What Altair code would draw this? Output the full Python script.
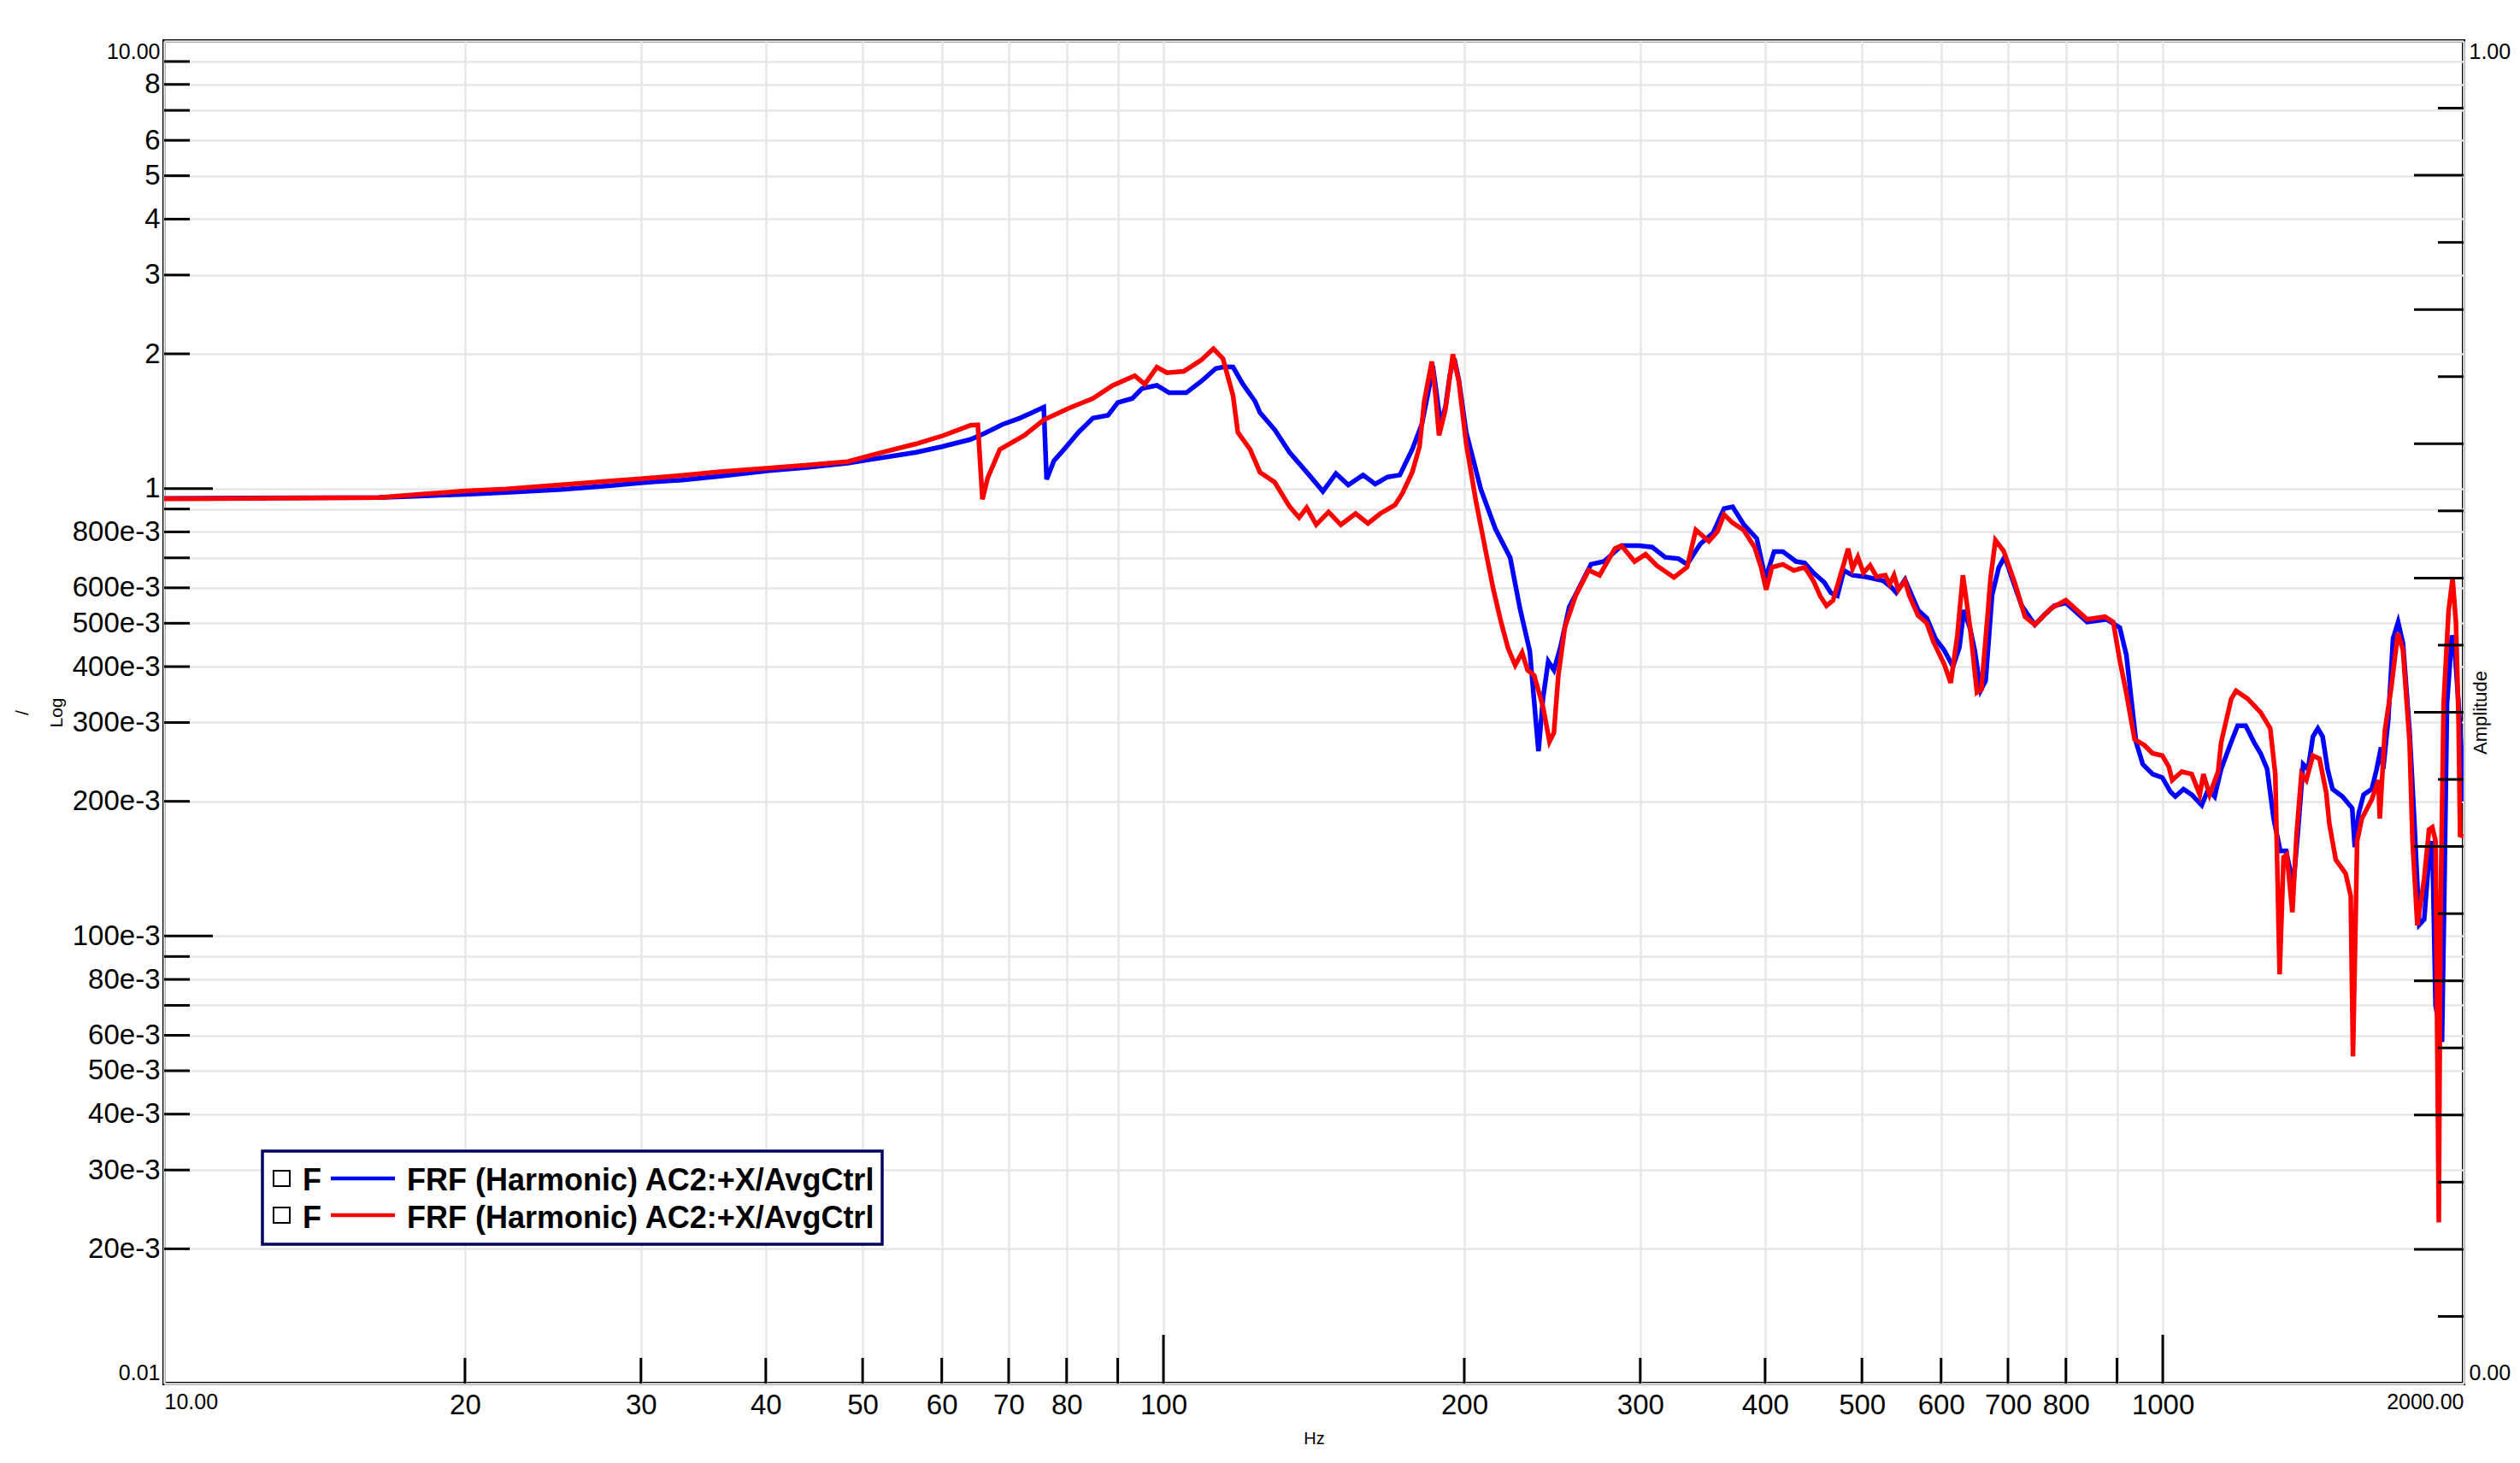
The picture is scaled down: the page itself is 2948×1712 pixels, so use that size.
import altair as alt
import pandas as pd

W, H = 2690, 1571

# ---------------- data ----------------
blue_freq = [10, 12, 14, 16.4, 18, 20, 22, 25, 28, 30, 33, 36, 40.3, 44, 48.3, 52, 56.6, 60, 64.1, 66.3,
             69, 71.8, 74, 75.9, 76.4, 77.7, 79.5, 82.2, 85.0, 88.0, 90.0, 93.1, 95.2, 98.5, 101.3, 105.4,
             109.1, 112.8, 115, 117.4, 120.1, 123.5, 124.9, 129.2, 133.7, 139.9, 144.4, 148.8, 153.1, 158.4,
             162.9, 167.6, 172.4, 177.4, 181.4, 184.5, 186, 187.5, 189.3, 191.5, 193.5, 195.5, 197.5, 200.9,
             207.8, 214.9, 222.3, 227.4, 232.6, 237.3, 239.8, 242.7, 245.9, 249.6, 254.7, 259.9, 267.8, 276.0,
             287.3, 299.1, 308.3, 317.8, 327.5, 334.2, 344.4, 354.8, 363.9, 371.2, 380.7, 392.4, 400.3, 408.4,
             416.7, 429.5, 438.2, 447.1, 458.5, 465.4, 472.5, 479.6, 489.3, 504.4, 525.1, 535.8, 541.2, 552.2,
             557.7, 569.1, 580.6, 592.4, 604.4, 616.7, 626.0, 632.3, 641.9, 648.4, 657.4, 664.9, 674.9, 685.3,
             694.8, 706.5, 722.6, 744.7, 761.7, 779.1, 799.9, 840.2, 879.0, 905.7, 919.5, 930.0, 940.5, 955,
             977, 999, 1018, 1029.5, 1049, 1069, 1094, 1110.5, 1127, 1144, 1170.6, 1188.3, 1210.6, 1234,
             1252.7, 1272, 1291, 1311, 1328.6, 1351, 1366, 1382, 1397.7, 1413.5, 1429.5, 1445.4, 1462, 1478.7,
             1512.7, 1547.3, 1556.6, 1570.6, 1588.5, 1618.7, 1637, 1653.5, 1662, 1681, 1700, 1720, 1739.5,
             1766, 1786, 1806, 1826.5, 1847, 1861, 1875, 1903, 1913, 1925, 1947, 1962, 1977, 1992, 2000]
blue_amp = [0.95, 0.952, 0.953, 0.955, 0.962, 0.97, 0.98, 0.995, 1.015, 1.03, 1.045, 1.065, 1.096, 1.115,
            1.139, 1.17, 1.205, 1.24, 1.287, 1.33, 1.39, 1.436, 1.48, 1.52, 1.048, 1.153, 1.222, 1.335, 1.436,
            1.457, 1.556, 1.59, 1.674, 1.70, 1.637, 1.637, 1.736, 1.854, 1.87, 1.868, 1.71, 1.567, 1.478,
            1.354, 1.205, 1.072, 0.985, 1.08, 1.018, 1.072, 1.023, 1.061, 1.072, 1.223, 1.394, 1.687, 1.88,
            1.65, 1.40, 1.52, 1.80, 1.95, 1.75, 1.335, 0.996, 0.812, 0.701, 0.539, 0.433, 0.259, 0.34, 0.411,
            0.393, 0.442, 0.543, 0.593, 0.677, 0.687, 0.745, 0.745, 0.74, 0.702, 0.697, 0.677, 0.751, 0.796,
            0.902, 0.91, 0.832, 0.773, 0.629, 0.723, 0.723, 0.687, 0.682, 0.648, 0.617, 0.585, 0.576, 0.656,
            0.64, 0.635, 0.622, 0.60, 0.585, 0.626, 0.594, 0.535, 0.513, 0.462, 0.435, 0.40, 0.442, 0.535,
            0.484, 0.435, 0.354, 0.372, 0.578, 0.666, 0.704, 0.63, 0.547, 0.496, 0.523, 0.547, 0.555, 0.503,
            0.51, 0.489, 0.425, 0.339, 0.271, 0.242, 0.23, 0.226, 0.21, 0.205, 0.213, 0.207, 0.196, 0.213,
            0.205, 0.236, 0.271, 0.295, 0.295, 0.271, 0.256, 0.236, 0.183, 0.155, 0.155, 0.13, 0.173, 0.242,
            0.236, 0.279, 0.291, 0.279, 0.236, 0.213, 0.205, 0.193, 0.158, 0.188, 0.207, 0.213, 0.236, 0.264,
            0.236, 0.303, 0.462, 0.503, 0.45, 0.287, 0.178, 0.106, 0.109, 0.150, 0.163, 0.07, 0.058, 0.123,
            0.33, 0.47, 0.42, 0.33, 0.25, 0.2]

red_freq = [10, 12, 14, 16.4, 18, 20, 22, 25, 28, 30, 33, 36, 40.3, 44, 48.3, 52, 56.6, 60, 64.1, 65.2,
            65.9, 66.7, 68.6, 72.6, 75.9, 80.4, 85.0, 89.0, 93.6, 95.8, 98.5, 100.8, 104.8, 109.1, 112.2,
            114.7, 117.4, 118.7, 122.1, 124.9, 129.2, 133.7, 136.7, 139.1, 142.2, 146.3, 150.5, 155.7, 160.2,
            164.8, 170.5, 173.4, 177.4, 180.4, 182.4, 185.6, 187.2, 188.7, 191.5, 194.8, 197.5, 200.9, 205.4,
            210.2, 213.8, 217.4, 221.2, 224.9, 228.5, 231.4, 235.0, 239.8, 243.4, 245.9, 248.4, 252.2, 258.5,
            266.4, 273.2, 283.0, 287.3, 296.1, 303.7, 311.5, 324.2, 334.2, 341.0, 351.4, 358.5, 363.9, 371.2,
            380.7, 390.4, 396.3, 401.0, 406.4, 416.7, 427.4, 438.2, 447.1, 454.0, 460.8, 467.7, 474.8, 484.4,
            489.3, 495.3, 501.7, 509.5, 517.2, 527.6, 533.0, 538.4, 543.8, 552.2, 557.7, 569.1, 580.6, 589.4,
            604.4, 613.5, 622.9, 631, 637, 641.9, 651.7, 658.3, 668.3, 672.4, 680.1, 693.1, 711.7, 728.0,
            744.7, 773.3, 799.9, 840.2, 875.4, 892.2, 905.7, 919.5, 937.1, 958.5, 976.6, 999, 1014, 1022,
            1045, 1069, 1089, 1098, 1114, 1136, 1144, 1171, 1184, 1216, 1253, 1281, 1296, 1309, 1321, 1331,
            1348, 1361, 1376.5, 1392, 1413, 1435, 1457, 1468, 1490, 1524, 1542, 1550, 1565, 1582, 1619, 1643,
            1649, 1668, 1693, 1719, 1739, 1766, 1778, 1798, 1826, 1847, 1861, 1875, 1889, 1896, 1910, 1932,
            1950, 1965, 1977, 1984, 2000]
red_amp = [0.948, 0.95, 0.952, 0.955, 0.97, 0.988, 0.998, 1.02, 1.04, 1.052, 1.07, 1.09, 1.111, 1.128,
           1.148, 1.2, 1.259, 1.31, 1.384, 1.388, 0.946, 1.056, 1.223, 1.315, 1.424, 1.511, 1.59, 1.70, 1.787,
           1.71, 1.868, 1.814, 1.827, 1.936, 2.053, 1.951, 1.613, 1.335, 1.223, 1.087, 1.033, 0.912, 0.861,
           0.906, 0.83, 0.886, 0.83, 0.879, 0.836, 0.879, 0.919, 0.975, 1.087, 1.24, 1.567, 1.923, 1.613,
           1.315, 1.50, 1.995, 1.736, 1.259, 0.94, 0.722, 0.597, 0.509, 0.44, 0.403, 0.43, 0.393, 0.382,
           0.325, 0.272, 0.285, 0.382, 0.49, 0.576, 0.657, 0.64, 0.734, 0.745, 0.687, 0.713, 0.673, 0.633,
           0.667, 0.808, 0.762, 0.802, 0.875, 0.838, 0.808, 0.74, 0.667, 0.594, 0.667, 0.677, 0.656, 0.667,
           0.622, 0.576, 0.547, 0.562, 0.629, 0.734, 0.662, 0.703, 0.648, 0.673, 0.635, 0.64, 0.611, 0.64,
           0.594, 0.622, 0.576, 0.52, 0.50, 0.455, 0.405, 0.368, 0.469, 0.64, 0.55, 0.484, 0.35, 0.355, 0.528,
           0.63, 0.766, 0.725, 0.612, 0.517, 0.496, 0.54, 0.563, 0.51, 0.517, 0.503, 0.413, 0.349, 0.275,
           0.267, 0.256, 0.253, 0.239, 0.223, 0.233, 0.23, 0.207, 0.23, 0.207, 0.233, 0.271, 0.339, 0.353,
           0.339, 0.316, 0.291, 0.23, 0.0821, 0.150, 0.152, 0.113, 0.168, 0.23, 0.223, 0.253, 0.249, 0.21,
           0.178, 0.148, 0.138, 0.123, 0.0538, 0.163, 0.183, 0.202, 0.223, 0.183, 0.287, 0.359, 0.475, 0.437,
           0.271, 0.163, 0.1057, 0.134, 0.173, 0.175, 0.163, 0.0229, 0.107, 0.33, 0.532, 0.63, 0.503, 0.303,
           0.168, 0.167]

x_tick_values = [10, 20, 30, 40, 50, 60, 70, 80, 90, 100, 200, 300, 400, 500, 600, 700, 800, 900, 1000, 2000]
x_tick_labels = ["10.00", "20", "30", "40", "50", "60", "70", "80", "", "100", "200", "300", "400", "500",
                 "600", "700", "800", "", "1000", "2000.00"]
y_tick_values = [10, 9, 8, 7, 6, 5, 4, 3, 2, 1, 0.9, 0.8, 0.7, 0.6, 0.5, 0.4, 0.3, 0.2, 0.1,
                 0.09, 0.08, 0.07, 0.06, 0.05, 0.04, 0.03, 0.02, 0.01]
y_tick_labels = ["10.00", "", "8", "", "6", "5", "4", "3", "2", "1", "", "800e-3", "", "600e-3", "500e-3",
                 "400e-3", "300e-3", "200e-3", "100e-3", "", "80e-3", "", "60e-3", "50e-3", "40e-3",
                 "30e-3", "20e-3", "0.01"]
x_minor_ticks = [20, 30, 40, 50, 60, 70, 80, 90, 200, 300, 400, 500, 600, 700, 800, 900]
x_major_ticks = [100, 1000]
y_minor_ticks = [9, 8, 7, 6, 5, 4, 3, 2, 0.9, 0.8, 0.7, 0.6, 0.5, 0.4, 0.3, 0.2,
                 0.09, 0.08, 0.07, 0.06, 0.05, 0.04, 0.03, 0.02]
y_major_ticks = [1, 0.1]
amp_minor_ticks = [0.05, 0.15, 0.25, 0.35, 0.45, 0.55, 0.65, 0.75, 0.85, 0.95]
amp_major_ticks = [0.1, 0.2, 0.3, 0.4, 0.5, 0.6, 0.7, 0.8, 0.9]
legend_label = "FRF (Harmonic) AC2:+X/AvgCtrl"

FONT = "Liberation Sans"


def label_expr(values, labels):
    parts = [f"abs(datum.value - {v}) < {v * 1e-4} ? '{lab}' : " for v, lab in zip(values, labels)]
    return "".join(parts) + "''"


xscale = alt.Scale(type="log", domain=[10, 2000], nice=False)
yscale = alt.Scale(type="log", domain=[0.01, 10], nice=False)
ampscale = alt.Scale(domain=[0, 1], nice=False, zero=False)

xaxis = alt.Axis(
    values=x_tick_values, labelExpr=label_expr(x_tick_values, x_tick_labels),
    grid=True, gridColor="#e6e6e6", gridWidth=2.5, ticks=False, tickSize=0, domain=False,
    labelFont=FONT, labelColor="black",
    labelFontSize={"condition": {"test": "datum.value < 11 || datum.value > 1900", "value": 25}, "value": 33},
    labelAlign={"condition": [{"test": "datum.value < 11", "value": "left"},
                              {"test": "datum.value > 1900", "value": "right"}], "value": "center"},
    labelBaseline="top", labelPadding=9, labelOverlap=False, labelFlush=False,
    title="Hz", titleFont=FONT, titleFontSize=20, titleFontWeight="normal", titleColor="black",
    titleY=64, titleX=W / 2, titleBaseline="middle", titleAlign="center",
)
yaxis = alt.Axis(
    values=y_tick_values, labelExpr=label_expr(y_tick_values, y_tick_labels),
    grid=True, gridColor="#e6e6e6", gridWidth=2.5, ticks=False, tickSize=0, domain=False,
    labelFont=FONT, labelColor="black",
    labelFontSize={"condition": {"test": "datum.value > 9.5 || datum.value < 0.011", "value": 25}, "value": 33},
    labelBaseline={"condition": [{"test": "datum.value > 9.5", "value": "top"},
                                 {"test": "datum.value < 0.011", "value": "bottom"}], "value": "middle"},
    labelAlign="right", labelPadding=5, labelOverlap=False, labelFlush=False,
    title=["/", "Log"], titleFont=FONT, titleFontSize=21, titleFontWeight="normal", titleColor="black",
    titleAngle=270, titleX=-166, titleY=H / 2, titleLineHeight=40, titleAlign="center",
    titleBaseline="middle",
)
ampaxis = alt.Axis(
    orient="right", values=[0, 1], labelExpr="datum.value > 0.5 ? '1.00' : '0.00'",
    grid=False, ticks=False, tickSize=0, domain=False, labelFont=FONT, labelColor="black",
    labelFontSize=25, labelAlign="left", labelPadding=6, labelOverlap=False, labelFlush=False,
    labelBaseline={"condition": {"test": "datum.value > 0.5", "value": "top"}, "value": "bottom"},
    title="Amplitude", titleFont=FONT, titleFontSize=22, titleFontWeight="normal", titleColor="black",
    titleAngle=270, titleX=19, titleY=H / 2, titleAlign="center", titleBaseline="middle",
)

blue_df = pd.DataFrame({"freq": blue_freq, "amp": blue_amp})
red_df = pd.DataFrame({"freq": red_freq, "amp": red_amp})

XF = alt.X("freq:Q", scale=xscale, axis=xaxis)

blue_line = alt.Chart(blue_df).mark_line(color="#0000ff", strokeWidth=5.5, clip=True).encode(
    x=XF, y=alt.Y("amp:Q", scale=yscale, axis=yaxis),
)
red_line = alt.Chart(red_df).mark_line(color="#ff0000", strokeWidth=5.5, clip=True).encode(
    x=XF, y=alt.Y("amp:Q", scale=yscale, axis=yaxis),
)


def xticks(vals, length):
    return alt.Chart(pd.DataFrame({"freq": vals})).mark_rule(color="black", strokeWidth=3).encode(
        x=XF, y=alt.value(H), y2=alt.value(H - length))


def yticks(vals, length):
    return alt.Chart(pd.DataFrame({"amp": vals})).mark_rule(color="black", strokeWidth=3).encode(
        y=alt.Y("amp:Q", scale=yscale, axis=yaxis), x=alt.value(0), x2=alt.value(length))


one = pd.DataFrame({"k": [0]})
leg_box = alt.Chart(one).mark_rect(fill="white", stroke="#000060", strokeWidth=3.5).encode(
    x=alt.value(115), x2=alt.value(840), y=alt.value(1299), y2=alt.value(1408))


def legend_row(color, y_mid, y_base):
    sq = alt.Chart(one).mark_rect(fill="white", stroke="black", strokeWidth=2).encode(
        x=alt.value(128), x2=alt.value(147), y=alt.value(y_mid - 9), y2=alt.value(y_mid + 9))
    f = alt.Chart(one).mark_text(font=FONT, fontSize=36, fontWeight="bold", align="left",
                                 baseline="alphabetic", color="black").encode(
        x=alt.value(162), y=alt.value(y_base), text=alt.value("F"))
    ln = alt.Chart(one).mark_rule(color=color, strokeWidth=4.5).encode(
        x=alt.value(195), x2=alt.value(270), y=alt.value(y_mid))
    tx = alt.Chart(one).mark_text(font=FONT, fontSize=36, fontWeight="bold", align="left",
                                  baseline="alphabetic", color="black").encode(
        x=alt.value(284), y=alt.value(y_base), text=alt.value(legend_label))
    return [sq, f, ln, tx]


main = alt.layer(
    blue_line, red_line,
    xticks(x_minor_ticks, 30), xticks(x_major_ticks, 57),
    yticks(y_minor_ticks, 30), yticks(y_major_ticks, 57),
    leg_box,
    *legend_row("#0000ff", 1331, 1345),
    *legend_row("#ff0000", 1374, 1389),
)

amp_minor = alt.Chart(pd.DataFrame({"v": amp_minor_ticks})).mark_rule(color="black", strokeWidth=3).encode(
    y=alt.Y("v:Q", scale=ampscale, axis=ampaxis), x=alt.value(W), x2=alt.value(W - 30))
amp_major = alt.Chart(pd.DataFrame({"v": amp_major_ticks})).mark_rule(color="black", strokeWidth=3).encode(
    y=alt.Y("v:Q", scale=ampscale, axis=ampaxis), x=alt.value(W), x2=alt.value(W - 58))
right = alt.layer(amp_minor, amp_major)

chart = alt.layer(main, right).resolve_scale(y="independent").properties(
    width=W, height=H,
    autosize=alt.AutoSizeParams(type="none"),
    padding={"left": 184, "top": 40, "right": 58, "bottom": 80},
    background="white",
).configure_view(stroke="black", strokeWidth=4)

chart.save("out.html", embed_options={"renderer": "svg", "actions": False})
